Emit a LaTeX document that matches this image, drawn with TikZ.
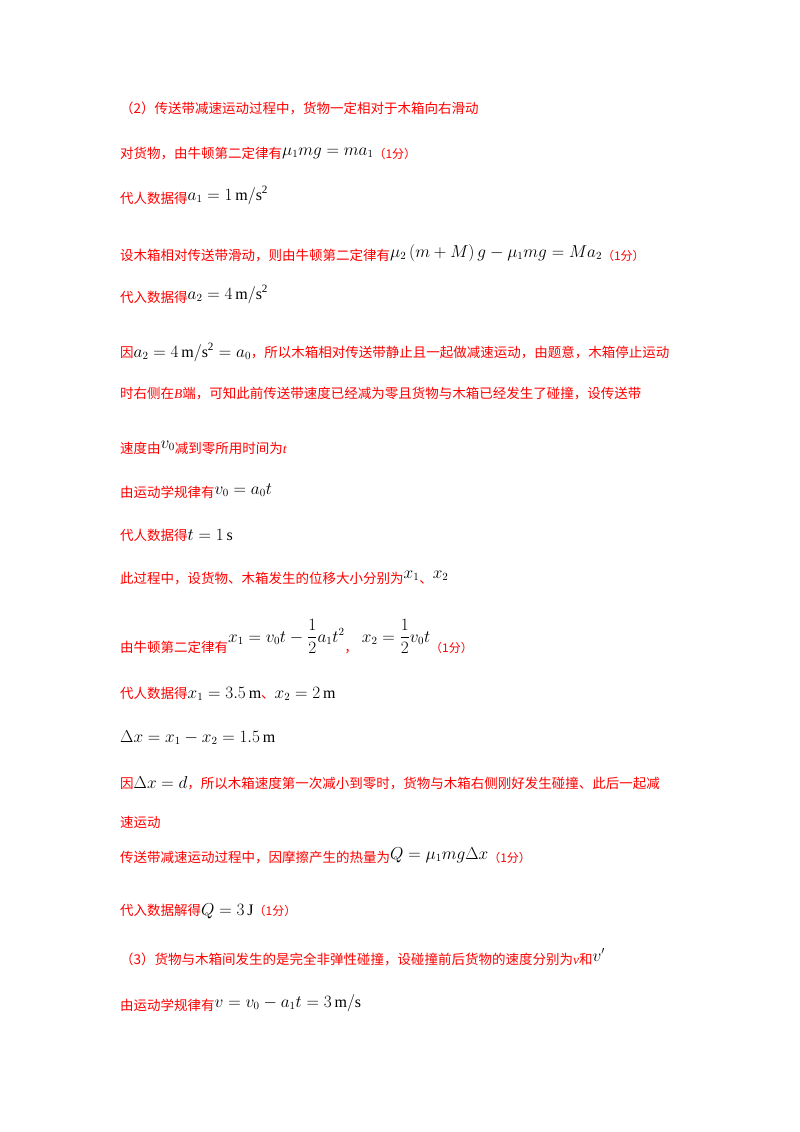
\documentclass[tikz,border=0pt]{standalone}
\usepackage{fontspec}
\usepackage{amsmath}
\setmainfont{Liberation Serif}
\newfontfamily\cjk{Noto Sans CJK SC}
\definecolor{rd}{RGB}{255,0,0}
\newcommand{\zh}[1]{{\cjk\color{rd}#1}}
\newcommand{\fen}{{\cjk\color{rd}\fontsize{12}{14}\selectfont（1分）}}
\newcommand{\ital}[1]{{\rmfamily\itshape #1}}
\newcommand{\mth}[1]{{\color{black}\fontsize{16}{18}\selectfont$#1$}}
\begin{document}
\begin{tikzpicture}[x=1pt,y=-1pt,line/.style={anchor=base west,inner sep=0pt,font=\fontsize{13.5}{16}\selectfont}]
\useasboundingbox[fill=white] (0,0) rectangle (800,1132);
\node[line] (l1) at (120,113) {\zh{（2）传送带减速运动过程中，货物一定相对于木箱向右滑动}};
\node[line] (l2) at (120,158) {\zh{对货物，由牛顿第二定律有}\raisebox{3pt}{\mth{\mu_1 mg=ma_1}}\fen};
\node[line] (l3) at (120,203) {\zh{代人数据得}\raisebox{3pt}{\mth{a_1=1\,\mathrm{m/s^2}}}};
\node[line] (l4) at (120,260) {\zh{设木箱相对传送带滑动，则由牛顿第二定律有}\raisebox{3pt}{\mth{\mu_2\left(m+M\right)g-\mu_1 mg=Ma_2}}\fen};
\node[line] (l5) at (120,302) {\zh{代入数据得}\raisebox{3pt}{\mth{a_2=4\,\mathrm{m/s^2}}}};
\node[line] (l6) at (120,357) {\zh{因}\mth{a_2=4\,\mathrm{m/s^2}=a_0}\zh{，所以木箱相对传送带静止且一起做减速运动，由题意，木箱停止运动}};
\node[line] (l7) at (120,398) {\zh{时右侧在\ital{B}端，可知此前传送带速度已经减为零且货物与木箱已经发生了碰撞，设传送带}};
\node[line] (l8) at (120,453) {\zh{速度由}\raisebox{5pt}{\mth{v_0}}\zh{减到零所用时间为\ital{t}}};
\node[line] (l9) at (120,497) {\zh{由运动学规律有}\raisebox{3pt}{\mth{v_0=a_0t}}};
\node[line] (l10) at (120,540) {\zh{代人数据得}\mth{t=1\,\mathrm{s}}};
\node[line] (l11) at (120,583) {\zh{此过程中，设货物、木箱发生的位移大小分别为}\raisebox{5pt}{\mth{x_1}}\zh{、}\raisebox{5pt}{\mth{x_2}}};
\node[line] (l12) at (120,652) {\zh{由牛顿第二定律有}\raisebox{10pt}{\mth{x_1=v_0t-\dfrac{1}{2}a_1t^2}}\zh{，}\raisebox{10pt}{\mth{\ x_2=\dfrac{1}{2}v_0t}}\fen};
\node[line] (l13) at (120,698) {\zh{代人数据得}\mth{x_1=3.5\,\mathrm{m}}\zh{、}\mth{x_2=2\,\mathrm{m}}};
\node[line] (l14) at (120,742) {\mth{\Delta x=x_1-x_2=1.5\,\mathrm{m}}};
\node[line] (l15) at (120,788) {\zh{因}\mth{\Delta x=d}\zh{，所以木箱速度第一次减小到零时，货物与木箱右侧刚好发生碰撞、此后一起减}};
\node[line] (l16) at (120,827) {\zh{速运动}};
\node[line] (l17) at (120,862) {\zh{传送带减速运动过程中，因摩擦产生的热量为}\raisebox{3pt}{\mth{Q=\mu_1 mg\Delta x}}\fen};
\node[line] (l18) at (120,915) {\zh{代入数据解得}\mth{Q=3\,\mathrm{J}}\fen};
\node[line] (l19) at (120,964) {\zh{（3）货物与木箱间发生的是完全非弹性碰撞，设碰撞前后货物的速度分别为\ital{v}和}\raisebox{3pt}{\mth{v'}}};
\node[line] (l20) at (120,1010) {\zh{由运动学规律有}\raisebox{3pt}{\mth{v=v_0-a_1t=3\,\mathrm{m/s}}}};
\end{tikzpicture}
\end{document}
